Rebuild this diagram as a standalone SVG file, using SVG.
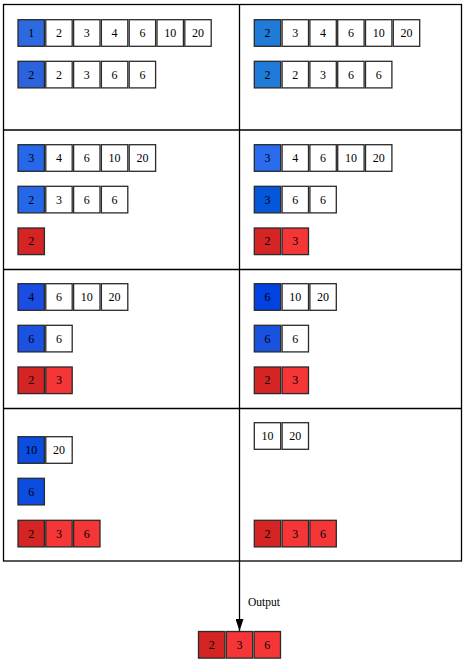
<svg xmlns="http://www.w3.org/2000/svg" width="465" height="662" viewBox="0 0 465 662">
<style>
.frame{fill:none;stroke:#000;stroke-width:1.3}
.c rect{stroke:#2a2a2a;stroke-width:1.3;width:26.4px;height:26.6px}
.w{fill:#fff}
.r1{fill:#d42424}
.r2{fill:#f43636}
text{font-family:"Liberation Serif","Times New Roman",serif;font-size:12px;fill:#000;text-anchor:middle;dominant-baseline:central}
.lbl{text-anchor:start;dominant-baseline:alphabetic;font-size:11.5px}
</style>
<defs>
<marker id="ah" markerWidth="12" markerHeight="8" refX="12" refY="4" orient="auto" markerUnits="userSpaceOnUse" viewBox="0 0 12 8">
<path d="M0,0 L12,4 L0,8 Z" fill="#000"/>
</marker>
</defs>
<rect width="465" height="662" fill="#fff"/>
<g id="panels">
<rect class="frame" x="3.5" y="4.5" width="458" height="556.5"/>
<line class="frame" x1="239.5" y1="4.5" x2="239.5" y2="561"/>
<line class="frame" x1="3.5" y1="130" x2="461.5" y2="130"/>
<line class="frame" x1="3.5" y1="269.5" x2="461.5" y2="269.5"/>
<line class="frame" x1="3.5" y1="408.5" x2="461.5" y2="408.5"/>
</g>
<!-- Panel 1 left -->
<g id="p1l-a" class="c">
<rect x="18" y="19.7" style="fill:#2d6ae0"/><text x="31.2" y="33">1</text>
<rect x="45.8" y="19.7" class="w"/><text x="59" y="33">2</text>
<rect x="73.6" y="19.7" class="w"/><text x="86.8" y="33">3</text>
<rect x="101.4" y="19.7" class="w"/><text x="114.6" y="33">4</text>
<rect x="129.2" y="19.7" class="w"/><text x="142.4" y="33">6</text>
<rect x="157" y="19.7" class="w"/><text x="170.2" y="33">10</text>
<rect x="184.8" y="19.7" class="w"/><text x="198" y="33">20</text>
</g>
<g id="p1l-b" class="c">
<rect x="18" y="61.3" style="fill:#2b63dd"/><text x="31.2" y="74.6">2</text>
<rect x="45.8" y="61.3" class="w"/><text x="59" y="74.6">2</text>
<rect x="73.6" y="61.3" class="w"/><text x="86.8" y="74.6">3</text>
<rect x="101.4" y="61.3" class="w"/><text x="114.6" y="74.6">6</text>
<rect x="129.2" y="61.3" class="w"/><text x="142.4" y="74.6">6</text>
</g>
<!-- Panel 1 right -->
<g id="p1r-a" class="c">
<rect x="254.3" y="19.7" style="fill:#1f7ad8"/><text x="267.5" y="33">2</text>
<rect x="282.1" y="19.7" class="w"/><text x="295.3" y="33">3</text>
<rect x="309.9" y="19.7" class="w"/><text x="323.1" y="33">4</text>
<rect x="337.7" y="19.7" class="w"/><text x="350.9" y="33">6</text>
<rect x="365.5" y="19.7" class="w"/><text x="378.7" y="33">10</text>
<rect x="393.3" y="19.7" class="w"/><text x="406.5" y="33">20</text>
</g>
<g id="p1r-b" class="c">
<rect x="254.3" y="61.3" style="fill:#1f7ad8"/><text x="267.5" y="74.6">2</text>
<rect x="282.1" y="61.3" class="w"/><text x="295.3" y="74.6">2</text>
<rect x="309.9" y="61.3" class="w"/><text x="323.1" y="74.6">3</text>
<rect x="337.7" y="61.3" class="w"/><text x="350.9" y="74.6">6</text>
<rect x="365.5" y="61.3" class="w"/><text x="378.7" y="74.6">6</text>
</g>
<!-- Panel 2 left -->
<g id="p2l-a" class="c">
<rect x="18" y="144.7" style="fill:#2568ea"/><text x="31.2" y="158">3</text>
<rect x="45.8" y="144.7" class="w"/><text x="59" y="158">4</text>
<rect x="73.6" y="144.7" class="w"/><text x="86.8" y="158">6</text>
<rect x="101.4" y="144.7" class="w"/><text x="114.6" y="158">10</text>
<rect x="129.2" y="144.7" class="w"/><text x="142.4" y="158">20</text>
</g>
<g id="p2l-b" class="c">
<rect x="18" y="186.3" style="fill:#2468e8"/><text x="31.2" y="199.6">2</text>
<rect x="45.8" y="186.3" class="w"/><text x="59" y="199.6">3</text>
<rect x="73.6" y="186.3" class="w"/><text x="86.8" y="199.6">6</text>
<rect x="101.4" y="186.3" class="w"/><text x="114.6" y="199.6">6</text>
</g>
<g id="p2l-c" class="c">
<rect x="18" y="228" class="r1"/><text x="31.2" y="241.3">2</text>
</g>
<!-- Panel 2 right -->
<g id="p2r-a" class="c">
<rect x="254.3" y="144.7" style="fill:#2a6bef"/><text x="267.5" y="158">3</text>
<rect x="282.1" y="144.7" class="w"/><text x="295.3" y="158">4</text>
<rect x="309.9" y="144.7" class="w"/><text x="323.1" y="158">6</text>
<rect x="337.7" y="144.7" class="w"/><text x="350.9" y="158">10</text>
<rect x="365.5" y="144.7" class="w"/><text x="378.7" y="158">20</text>
</g>
<g id="p2r-b" class="c">
<rect x="254.3" y="186.3" style="fill:#0457d8"/><text x="267.5" y="199.6">3</text>
<rect x="282.1" y="186.3" class="w"/><text x="295.3" y="199.6">6</text>
<rect x="309.9" y="186.3" class="w"/><text x="323.1" y="199.6">6</text>
</g>
<g id="p2r-c" class="c">
<rect x="254.3" y="228" class="r1"/><text x="267.5" y="241.3">2</text>
<rect x="282.1" y="228" class="r2"/><text x="295.3" y="241.3">3</text>
</g>
<!-- Panel 3 left -->
<g id="p3l-a" class="c">
<rect x="18" y="283.7" style="fill:#1a4de2"/><text x="31.2" y="297">4</text>
<rect x="45.8" y="283.7" class="w"/><text x="59" y="297">6</text>
<rect x="73.6" y="283.7" class="w"/><text x="86.8" y="297">10</text>
<rect x="101.4" y="283.7" class="w"/><text x="114.6" y="297">20</text>
</g>
<g id="p3l-b" class="c">
<rect x="18" y="325.3" style="fill:#1c52e2"/><text x="31.2" y="338.6">6</text>
<rect x="45.8" y="325.3" class="w"/><text x="59" y="338.6">6</text>
</g>
<g id="p3l-c" class="c">
<rect x="18" y="367" class="r1"/><text x="31.2" y="380.3">2</text>
<rect x="45.8" y="367" class="r2"/><text x="59" y="380.3">3</text>
</g>
<!-- Panel 3 right -->
<g id="p3r-a" class="c">
<rect x="254.3" y="283.7" style="fill:#0242e2"/><text x="267.5" y="297">6</text>
<rect x="282.1" y="283.7" class="w"/><text x="295.3" y="297">10</text>
<rect x="309.9" y="283.7" class="w"/><text x="323.1" y="297">20</text>
</g>
<g id="p3r-b" class="c">
<rect x="254.3" y="325.3" style="fill:#1a52e0"/><text x="267.5" y="338.6">6</text>
<rect x="282.1" y="325.3" class="w"/><text x="295.3" y="338.6">6</text>
</g>
<g id="p3r-c" class="c">
<rect x="254.3" y="367" class="r1"/><text x="267.5" y="380.3">2</text>
<rect x="282.1" y="367" class="r2"/><text x="295.3" y="380.3">3</text>
</g>
<!-- Panel 4 left -->
<g id="p4l-a" class="c">
<rect x="18" y="436.7" style="fill:#0a4de0"/><text x="31.2" y="450">10</text>
<rect x="45.8" y="436.7" class="w"/><text x="59" y="450">20</text>
</g>
<g id="p4l-b" class="c">
<rect x="18" y="478.3" style="fill:#0a4de0"/><text x="31.2" y="491.6">6</text>
</g>
<g id="p4l-c" class="c">
<rect x="18" y="520.3" class="r1"/><text x="31.2" y="533.6">2</text>
<rect x="45.8" y="520.3" class="r2"/><text x="59" y="533.6">3</text>
<rect x="73.6" y="520.3" class="r2"/><text x="86.8" y="533.6">6</text>
</g>
<!-- Panel 4 right -->
<g id="p4r-a" class="c">
<rect x="254.3" y="422.7" class="w"/><text x="267.5" y="436">10</text>
<rect x="282.1" y="422.7" class="w"/><text x="295.3" y="436">20</text>
</g>
<g id="p4r-c" class="c">
<rect x="254.3" y="520.3" class="r1"/><text x="267.5" y="533.6">2</text>
<rect x="282.1" y="520.3" class="r2"/><text x="295.3" y="533.6">3</text>
<rect x="309.9" y="520.3" class="r2"/><text x="323.1" y="533.6">6</text>
</g>
<!-- Output -->
<g id="output" class="c">
<rect x="198.5" y="631.5" class="r1"/><text x="211.7" y="644.8">2</text>
<rect x="226.3" y="631.5" class="r2"/><text x="239.5" y="644.8">3</text>
<rect x="254.1" y="631.5" class="r2"/><text x="267.3" y="644.8">6</text>
</g>
<g id="connectors">
<line x1="239.5" y1="561" x2="239.5" y2="631" stroke="#000" stroke-width="1.3" marker-end="url(#ah)"/>
<text class="lbl" x="248" y="606">Output</text>
</g>
</svg>
